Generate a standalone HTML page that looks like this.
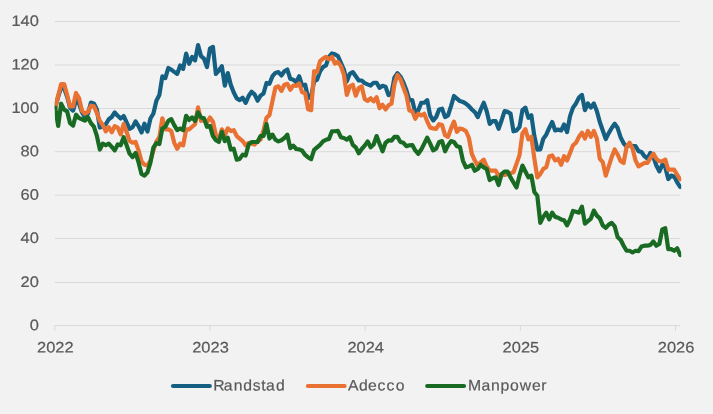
<!DOCTYPE html>
<html lang="en">
<head>
<meta charset="utf-8">
<title>Randstad, Adecco, Manpower</title>
<style>
html,body{margin:0;padding:0;background:#f2f2f2;}
body{width:713px;height:414px;overflow:hidden;}
svg{display:block;}
text{font-family:"Liberation Sans",sans-serif;font-size:15.3px;fill:#595959;stroke:#595959;stroke-width:0.2px;text-rendering:geometricPrecision;}
</style>
</head>
<body>
<svg width="713" height="414" viewBox="0 0 713 414">
<rect x="0" y="0" width="713" height="414" fill="#f2f2f2"/>

<g stroke="#d9d9d9" stroke-width="1" fill="none">
<line x1="54.8" y1="325.55" x2="680.0" y2="325.55"/>
<line x1="54.8" y1="282.50" x2="680.0" y2="282.50"/>
<line x1="54.8" y1="238.50" x2="680.0" y2="238.50"/>
<line x1="54.8" y1="195.10" x2="680.0" y2="195.10"/>
<line x1="54.8" y1="151.70" x2="680.0" y2="151.70"/>
<line x1="54.8" y1="108.50" x2="680.0" y2="108.50"/>
<line x1="54.8" y1="65.00" x2="680.0" y2="65.00"/>
<line x1="54.8" y1="21.50" x2="680.0" y2="21.50"/>
<line x1="54.80" y1="325.50" x2="54.80" y2="331.00"/>
<line x1="209.98" y1="325.50" x2="209.98" y2="331.00"/>
<line x1="365.16" y1="325.50" x2="365.16" y2="331.00"/>
<line x1="520.34" y1="325.50" x2="520.34" y2="331.00"/>
<line x1="675.52" y1="325.50" x2="675.52" y2="331.00"/>
</g>
<g text-anchor="end">
<text transform="matrix(1.075,0.002,0,1,38.9,330.15)">0</text>
<text transform="matrix(1.075,0.002,0,1,38.9,287.10)">20</text>
<text transform="matrix(1.075,0.002,0,1,38.9,243.10)">40</text>
<text transform="matrix(1.075,0.002,0,1,38.9,199.70)">60</text>
<text transform="matrix(1.075,0.002,0,1,38.9,156.30)">80</text>
<text transform="matrix(1.075,0.002,0,1,38.9,113.10)">100</text>
<text transform="matrix(1.075,0.002,0,1,38.9,69.60)">120</text>
<text transform="matrix(1.075,0.002,0,1,38.9,26.10)">140</text>
</g>
<g text-anchor="middle">
<text transform="matrix(1.075,0.002,0,1,55.30,352.6)">2022</text>
<text transform="matrix(1.075,0.002,0,1,210.50,352.6)">2023</text>
<text transform="matrix(1.075,0.002,0,1,365.70,352.6)">2024</text>
<text transform="matrix(1.075,0.002,0,1,520.90,352.6)">2025</text>
<text transform="matrix(1.075,0.002,0,1,676.10,352.6)">2026</text>
</g>
<clipPath id="plot"><rect x="54.8" y="0" width="626.4" height="330"/></clipPath>
<g fill="none" stroke-width="4.2" stroke-linejoin="round" stroke-linecap="round" clip-path="url(#plot)">
<path stroke="#156082" d="M55.20,107.66 L58.18,96.77 L61.15,87.47 L64.13,88.32 L67.10,96.77 L70.08,107.75 L73.06,110.63 L76.03,100.15 L79.01,103.53 L81.98,112.40 L84.96,117.01 L87.94,113.63 L90.91,102.64 L93.89,103.49 L96.86,109.40 L99.84,127.54 L102.82,126.55 L105.79,124.27 L108.77,119.20 L111.74,117.00 L114.72,112.44 L117.70,115.82 L120.67,118.52 L123.65,115.99 L126.62,122.32 L129.60,128.83 L132.58,127.14 L135.55,121.48 L138.53,126.13 L141.50,132.46 L144.48,123.76 L147.46,131.62 L150.43,118.52 L153.41,113.45 L156.38,100.77 L159.36,95.03 L162.34,76.43 L165.31,78.12 L168.29,67.98 L171.26,69.67 L174.24,71.87 L177.22,73.90 L180.19,65.45 L183.17,68.83 L186.14,53.62 L189.12,63.76 L192.10,57.00 L195.07,60.38 L198.05,45.17 L201.02,56.15 L204.00,58.69 L206.98,67.14 L209.95,48.55 L212.93,46.86 L215.90,73.90 L218.88,70.52 L221.86,66.29 L224.83,85.73 L227.81,73.05 L230.78,84.88 L233.76,92.49 L236.74,98.41 L239.71,100.10 L242.69,97.75 L245.66,102.82 L248.64,96.06 L251.62,91.83 L254.59,94.37 L257.57,100.70 L260.54,95.63 L263.52,93.52 L266.50,82.96 L269.47,83.80 L272.45,76.20 L275.42,72.91 L278.40,72.07 L281.38,75.45 L284.35,71.22 L287.33,69.53 L290.30,78.83 L293.28,79.67 L296.26,82.21 L299.23,76.29 L302.21,85.59 L305.18,84.74 L308.16,98.26 L311.14,96.57 L314.11,81.36 L317.09,79.67 L320.06,71.22 L323.04,67.00 L326.02,65.31 L328.99,56.86 L331.97,53.48 L334.94,54.32 L337.92,56.01 L340.90,62.77 L343.87,69.53 L346.85,81.36 L349.82,73.76 L352.80,72.07 L355.78,76.29 L358.75,80.52 L361.73,80.52 L364.70,83.05 L367.68,84.41 L370.66,85.59 L373.63,82.77 L376.61,82.77 L379.58,87.84 L382.56,85.81 L385.54,86.70 L388.51,95.15 L391.49,93.46 L394.46,77.40 L397.44,73.18 L400.42,76.56 L403.39,82.47 L406.37,90.08 L409.34,100.22 L412.32,100.22 L415.30,112.89 L418.27,110.36 L421.25,102.75 L424.22,102.75 L427.20,100.22 L430.18,115.43 L433.15,120.50 L436.13,117.12 L439.10,109.51 L442.08,108.67 L445.06,117.12 L448.03,115.43 L451.01,106.13 L453.98,95.99 L456.96,98.53 L459.94,101.06 L462.91,101.91 L465.89,103.60 L468.86,106.13 L471.84,109.51 L474.82,112.05 L477.79,117.12 L480.77,109.51 L483.74,102.75 L486.72,111.20 L489.70,123.88 L492.67,121.06 L495.65,121.16 L498.62,128.77 L501.60,120.32 L504.58,111.02 L507.55,111.87 L510.53,113.56 L513.50,131.30 L516.48,130.46 L519.46,127.08 L522.43,110.18 L525.41,107.64 L528.38,117.78 L531.36,115.25 L534.34,136.06 L537.31,149.58 L540.29,149.32 L543.26,138.91 L546.24,134.68 L549.22,127.92 L552.19,122.01 L555.17,130.46 L558.14,129.61 L561.12,130.46 L564.10,124.54 L567.07,132.15 L570.05,116.09 L573.02,107.64 L576.00,103.42 L578.98,97.50 L581.95,94.97 L584.93,110.18 L587.90,103.42 L590.88,107.64 L593.86,103.42 L596.83,111.02 L599.81,122.01 L602.78,130.56 L605.76,139.01 L608.74,133.10 L611.71,128.03 L614.69,123.80 L617.66,128.03 L620.64,137.32 L623.62,143.24 L626.59,146.62 L629.57,145.21 L632.54,146.06 L635.52,146.06 L638.50,151.13 L641.47,151.97 L644.45,156.20 L647.42,158.73 L650.40,152.82 L653.38,157.04 L656.35,165.49 L659.33,171.41 L662.30,164.65 L665.28,167.18 L668.26,179.01 L671.23,175.63 L674.21,176.48 L677.18,182.39 L680.16,186.96"/>
<path stroke="#e97132" d="M55.20,107.66 L58.18,95.50 L61.15,84.09 L64.13,84.09 L67.10,94.66 L70.08,106.49 L73.06,106.49 L76.03,92.97 L79.01,98.04 L81.98,110.71 L84.96,113.63 L87.94,111.94 L90.91,105.68 L93.89,106.36 L96.86,112.78 L99.84,121.06 L102.82,125.11 L105.79,131.37 L108.77,127.14 L111.74,132.21 L114.72,126.13 L117.70,127.65 L120.67,134.32 L123.65,124.01 L126.62,132.04 L129.60,140.92 L132.58,142.75 L135.55,141.90 L138.53,150.35 L141.50,161.34 L144.48,164.72 L147.46,165.56 L150.43,160.49 L153.41,150.35 L156.38,141.56 L159.36,137.25 L162.34,118.32 L165.31,129.30 L168.29,129.30 L171.26,130.99 L174.24,142.82 L177.22,148.74 L180.19,143.67 L183.17,145.36 L186.14,129.30 L189.12,129.30 L192.10,126.77 L195.07,124.23 L198.05,107.33 L201.02,120.85 L204.00,120.01 L206.98,122.54 L209.95,117.47 L212.93,121.70 L215.90,135.22 L218.88,139.44 L221.86,129.30 L224.83,135.22 L227.81,128.46 L230.78,130.99 L233.76,130.15 L236.74,136.06 L239.71,138.60 L242.69,141.13 L245.66,145.36 L248.64,142.82 L251.62,143.67 L254.59,144.51 L257.57,141.13 L260.54,139.72 L263.52,130.42 L266.50,117.75 L269.47,115.07 L272.45,101.13 L275.42,87.44 L278.40,86.34 L281.38,90.99 L284.35,84.65 L287.33,83.80 L290.30,89.72 L293.28,85.49 L296.26,85.92 L299.23,83.38 L302.21,92.35 L305.18,93.19 L308.16,109.30 L311.14,110.14 L314.11,71.22 L317.09,72.07 L320.06,61.08 L323.04,58.55 L326.02,56.86 L328.99,59.39 L331.97,56.86 L334.94,63.62 L337.92,61.93 L340.90,66.15 L343.87,74.60 L346.85,94.88 L349.82,86.43 L352.80,84.74 L355.78,95.73 L358.75,88.12 L361.73,86.43 L364.70,99.11 L367.68,100.80 L370.66,98.26 L373.63,101.36 L376.61,97.14 L379.58,108.12 L382.56,104.74 L385.54,109.51 L388.51,105.29 L391.49,103.60 L394.46,84.16 L397.44,74.87 L400.42,79.09 L403.39,87.54 L406.37,95.15 L409.34,110.36 L412.32,111.20 L415.30,118.81 L418.27,113.74 L421.25,115.43 L424.22,113.74 L427.20,121.35 L430.18,127.61 L433.15,128.45 L436.13,128.79 L439.10,124.23 L442.08,125.07 L445.06,135.21 L448.03,136.90 L451.01,128.45 L453.98,121.69 L456.96,131.83 L459.94,128.45 L462.91,129.30 L465.89,130.99 L468.86,137.75 L471.84,153.80 L474.82,160.56 L477.79,165.63 L480.77,162.25 L483.74,159.72 L486.72,166.48 L489.70,170.70 L492.67,170.63 L495.65,170.63 L498.62,175.70 L501.60,174.01 L504.58,174.86 L507.55,174.01 L510.53,173.17 L513.50,172.32 L516.48,163.87 L519.46,155.42 L522.43,133.45 L525.41,129.23 L528.38,139.37 L531.36,136.83 L534.34,158.45 L537.31,177.39 L540.29,174.01 L543.26,168.94 L546.24,167.25 L549.22,156.27 L552.19,155.42 L555.17,160.49 L558.14,158.80 L561.12,164.72 L564.10,156.27 L567.07,160.49 L570.05,152.89 L573.02,145.28 L576.00,142.75 L578.98,136.83 L581.95,132.61 L584.93,138.52 L587.90,130.92 L590.88,136.83 L593.86,130.92 L596.83,138.52 L599.81,158.80 L602.78,162.11 L605.76,175.63 L608.74,166.34 L611.71,157.04 L614.69,149.44 L617.66,154.51 L620.64,161.27 L623.62,162.96 L626.59,146.90 L629.57,142.68 L632.54,148.59 L635.52,160.42 L638.50,166.34 L641.47,164.65 L644.45,162.96 L647.42,162.96 L650.40,157.89 L653.38,153.66 L656.35,158.73 L659.33,161.27 L662.30,161.27 L665.28,159.58 L668.26,169.72 L671.23,169.72 L674.21,169.72 L677.18,174.79 L680.16,179.35"/>
<path stroke="#196b24" d="M55.20,107.62 L58.18,125.85 L61.15,103.73 L64.13,109.65 L67.10,111.34 L70.08,123.17 L73.06,125.59 L76.03,114.72 L79.01,118.10 L81.98,119.28 L84.96,120.63 L87.94,117.25 L90.91,123.17 L93.89,126.69 L96.86,135.85 L99.84,149.51 L102.82,143.59 L105.79,145.28 L108.77,143.59 L111.74,146.97 L114.72,150.35 L117.70,144.44 L120.67,145.28 L123.65,137.11 L126.62,145.28 L129.60,153.73 L132.58,157.11 L135.55,152.89 L138.53,162.18 L141.50,174.01 L144.48,175.70 L147.46,172.32 L150.43,162.61 L153.41,147.39 L156.38,143.17 L159.36,144.01 L162.34,128.46 L165.31,126.77 L168.29,120.85 L171.26,119.16 L174.24,125.08 L177.22,130.15 L180.19,128.46 L183.17,130.15 L186.14,115.78 L189.12,120.01 L192.10,117.47 L195.07,120.85 L198.05,112.40 L201.02,117.47 L204.00,118.32 L206.98,126.77 L209.95,125.92 L212.93,136.06 L215.90,140.29 L218.88,141.98 L221.86,131.84 L224.83,141.13 L227.81,137.75 L230.78,149.58 L233.76,148.74 L236.74,159.73 L239.71,158.88 L242.69,154.65 L245.66,155.50 L248.64,144.51 L251.62,141.98 L254.59,141.98 L257.57,141.98 L260.54,135.99 L263.52,135.99 L266.50,124.16 L269.47,138.53 L272.45,134.65 L275.42,139.72 L278.40,141.41 L281.38,140.23 L284.35,138.03 L287.33,134.65 L290.30,148.17 L293.28,145.63 L296.26,149.01 L299.23,149.35 L302.21,150.70 L305.18,154.93 L308.16,157.46 L311.14,159.15 L314.11,149.86 L317.09,147.32 L320.06,144.79 L323.04,141.41 L326.02,139.72 L328.99,138.87 L331.97,131.27 L334.94,131.27 L337.92,130.93 L340.90,137.18 L343.87,138.03 L346.85,139.72 L349.82,137.18 L352.80,144.79 L355.78,147.32 L358.75,153.24 L361.73,149.01 L364.70,145.63 L367.68,141.41 L370.66,147.32 L373.63,144.51 L376.61,136.06 L379.58,143.66 L382.56,151.27 L385.54,142.82 L388.51,140.28 L391.49,140.62 L394.46,136.90 L397.44,136.90 L400.42,141.97 L403.39,142.82 L406.37,146.20 L409.34,145.35 L412.32,145.01 L415.30,150.42 L418.27,153.80 L421.25,149.58 L424.22,143.66 L427.20,137.75 L430.18,143.66 L433.15,150.42 L436.13,148.73 L439.10,141.97 L442.08,141.13 L445.06,151.27 L448.03,145.35 L451.01,141.13 L453.98,141.97 L456.96,146.20 L459.94,147.04 L462.91,160.56 L465.89,167.32 L468.86,166.48 L471.84,164.79 L474.82,170.70 L477.79,169.01 L480.77,164.79 L483.74,167.32 L486.72,169.01 L489.70,180.00 L492.67,178.24 L495.65,177.39 L498.62,185.00 L501.60,174.01 L504.58,171.48 L507.55,171.48 L510.53,177.39 L513.50,182.46 L516.48,187.54 L519.46,175.70 L522.43,165.56 L525.41,171.48 L528.38,177.39 L531.36,175.70 L534.34,191.97 L537.31,195.75 L540.29,222.79 L543.26,216.88 L546.24,212.65 L549.22,219.41 L552.19,212.65 L555.17,216.88 L558.14,217.72 L561.12,219.41 L564.10,220.26 L567.07,225.33 L570.05,219.41 L573.02,210.96 L576.00,211.81 L578.98,212.65 L581.95,206.74 L584.93,223.64 L587.90,221.10 L590.88,218.57 L593.86,210.56 L596.83,215.63 L599.81,218.32 L602.78,225.42 L605.76,227.96 L608.74,224.58 L611.71,222.89 L614.69,226.27 L617.66,237.25 L620.64,239.79 L623.62,245.70 L626.59,250.77 L629.57,250.77 L632.54,252.46 L635.52,250.77 L638.50,251.11 L641.47,246.55 L644.45,245.70 L647.42,245.70 L650.40,244.86 L653.38,241.48 L656.35,245.70 L659.33,244.01 L662.30,229.37 L665.28,228.18 L668.26,249.08 L671.23,249.08 L674.21,250.77 L677.18,248.24 L680.16,255.00"/>
</g>
<g fill="none" stroke-width="4.2" stroke-linecap="round">
<line stroke="#156082" x1="173.0" y1="386" x2="209.8" y2="386"/>
<line stroke="#e97132" x1="307.9" y1="386" x2="344.55" y2="386"/>
<line stroke="#196b24" x1="427.2" y1="386" x2="464.0" y2="386"/>
</g>
<g>
<text transform="matrix(1.03,0.002,0,1,213.18,390.45)" x="0.00 10.34 19.93 29.09 38.49 46.77 51.31 61.03" y="0">Randstad</text>
<text transform="matrix(1.03,0.002,0,1,348.04,390.45)" x="0.00 10.63 19.46 28.63 37.27 46.38" y="0">Adecco</text>
<text transform="matrix(1.03,0.002,0,1,467.99,390.45)" x="0.00 13.10 22.30 31.46 40.86 50.26 62.08 71.16" y="0">Manpower</text>
</g>
</svg>
</body>
</html>
